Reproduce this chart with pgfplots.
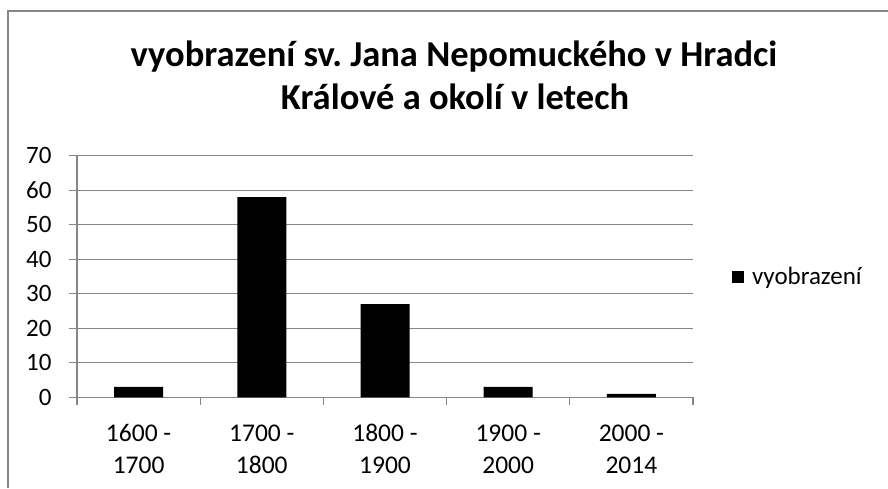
\documentclass[border=0pt]{standalone}
\usepackage{pgfplots}
\pgfplotsset{compat=1.18}
\usepackage{fontspec}
\setmainfont{Carlito}
\frenchspacing
\definecolor{gridgray}{RGB}{134,134,134}
\begin{document}
\begin{tikzpicture}[x=1pt,y=1pt]
\useasboundingbox (0,0) rectangle (888,488);
\draw[gridgray, line width=1.6pt] (8,0) -- (8,477) -- (888,477);
\node[anchor=base, font=\fontsize{36.5}{44}\selectfont\bfseries, inner sep=0] at (454,421.3) {vyobrazení sv.\ Jana Nepomuckého v Hradci};
\node[anchor=base, font=\fontsize{36.5}{44}\selectfont\bfseries, inner sep=0] at (455,378) {Králové a okolí v letech};
\begin{axis}[
  at={(77pt,90.7pt)}, anchor=south west,
  width=616pt, height=241.6pt, scale only axis,
  xmin=-0.5, xmax=4.5, ymin=0, ymax=70,
  ytick={0,10,...,70},
  xtick={-0.5,0.5,...,4.5},
  x tick label as interval,
  xticklabels={{\strut 1600 -\\[2pt]\strut 1700},{\strut 1700 -\\[2pt]\strut 1800},{\strut 1800 -\\[2pt]\strut 1900},{\strut 1900 -\\[2pt]\strut 2000},{\strut 2000 -\\[2pt]\strut 2014}},
  xticklabel style={align=center, font=\fontsize{25.5}{30}\selectfont, yshift=-12pt},
  yticklabel style={font=\fontsize{25}{30}\selectfont, xshift=-14pt},
  /pgf/number format/assume math mode=true,
  axis x line*=bottom, axis y line*=left,
  ymajorgrids,
  grid style={gridgray, line width=1.2pt},
  axis line style={gridgray, line width=1.2pt},
  tick style={gridgray, line width=1.2pt},
  tick align=outside, major tick length=8pt,
  legend style={at={(1.063,0.5)}, anchor=west, draw=none, font=\fontsize{25}{30}\selectfont, inner sep=0pt, /tikz/column sep=6pt},
  legend image code/.code={\fill[black] (0pt,-6pt) rectangle (12pt,6pt);},
]
\addplot[ybar, bar width=49pt, fill=black, draw=none] coordinates {(0,3) (1,58) (2,27) (3,3) (4,1)};
\addlegendentry{vyobrazení}
\end{axis}
\end{tikzpicture}
\end{document}
